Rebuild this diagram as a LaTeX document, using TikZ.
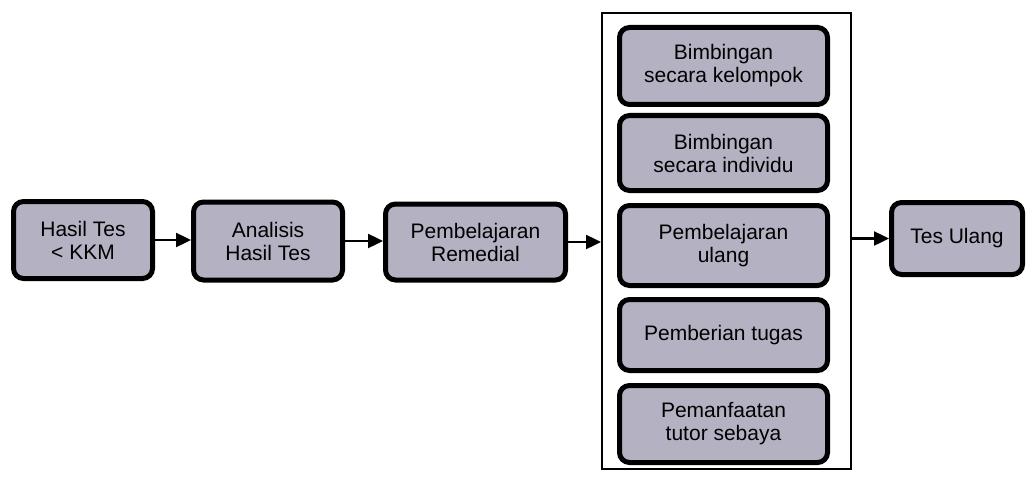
\documentclass[tikz,border=0pt]{standalone}
\usepackage{fontspec}
\setmainfont{Liberation Sans}
\usetikzlibrary{arrows.meta}
\definecolor{boxfill}{RGB}{180,177,194}
\tikzset{
  box/.style={draw=black, line width=5pt, rounded corners=10pt, fill=boxfill,
    align=center, inner sep=0pt, font=\fontsize{21}{23}\selectfont},
  frame/.style={draw=black, line width=2pt},
  arr/.style={line width=2.4pt, -{Triangle[length=15pt,width=14pt]}}
}
\begin{document}
\begin{tikzpicture}[x=1pt,y=-1pt]
\useasboundingbox[fill=white] (0,0) rectangle (1032,476);
\node[frame, minimum width=249pt, minimum height=456pt] (cont) at (726.5,241) {};
\node[box, minimum width=139pt, minimum height=77pt] (b1) at (83,240) {Hasil Tes\\< KKM};
\node[box, minimum width=149pt, minimum height=78pt] (b2) at (268,241) {Analisis\\Hasil Tes};
\node[box, minimum width=180pt, minimum height=76pt] (b3) at (475.5,242) {Pembelajaran\\Remedial};
\node[box, minimum width=208pt, minimum height=77pt] (i1) at (723.5,66) {Bimbingan\\secara kelompok};
\node[box, minimum width=208pt, minimum height=75pt] (i2) at (723.5,153) {Bimbingan\\secara individu};
\node[box, minimum width=208pt, minimum height=80pt] (i3) at (723.5,245.5) {Pembelajaran\\ulang};
\node[box, minimum width=208pt, minimum height=71pt] (i4) at (723.5,335) {Pemberian tugas};
\node[box, minimum width=208pt, minimum height=77pt] (i5) at (723.5,424) {Pemanfaatan\\tutor sebaya};
\node[box, minimum width=131pt, minimum height=72pt] (tes) at (957,238.5) {Tes Ulang};
\draw[arr] (b1.east) -- (b2.west |- b1.east);
\draw[arr] (b2.east) -- (b3.west |- b2.east);
\draw[arr] (b3.east) -- (cont.west |- b3.east);
\draw[arr] (cont.east |- tes.west) -- (tes.west);
\end{tikzpicture}
\end{document}
